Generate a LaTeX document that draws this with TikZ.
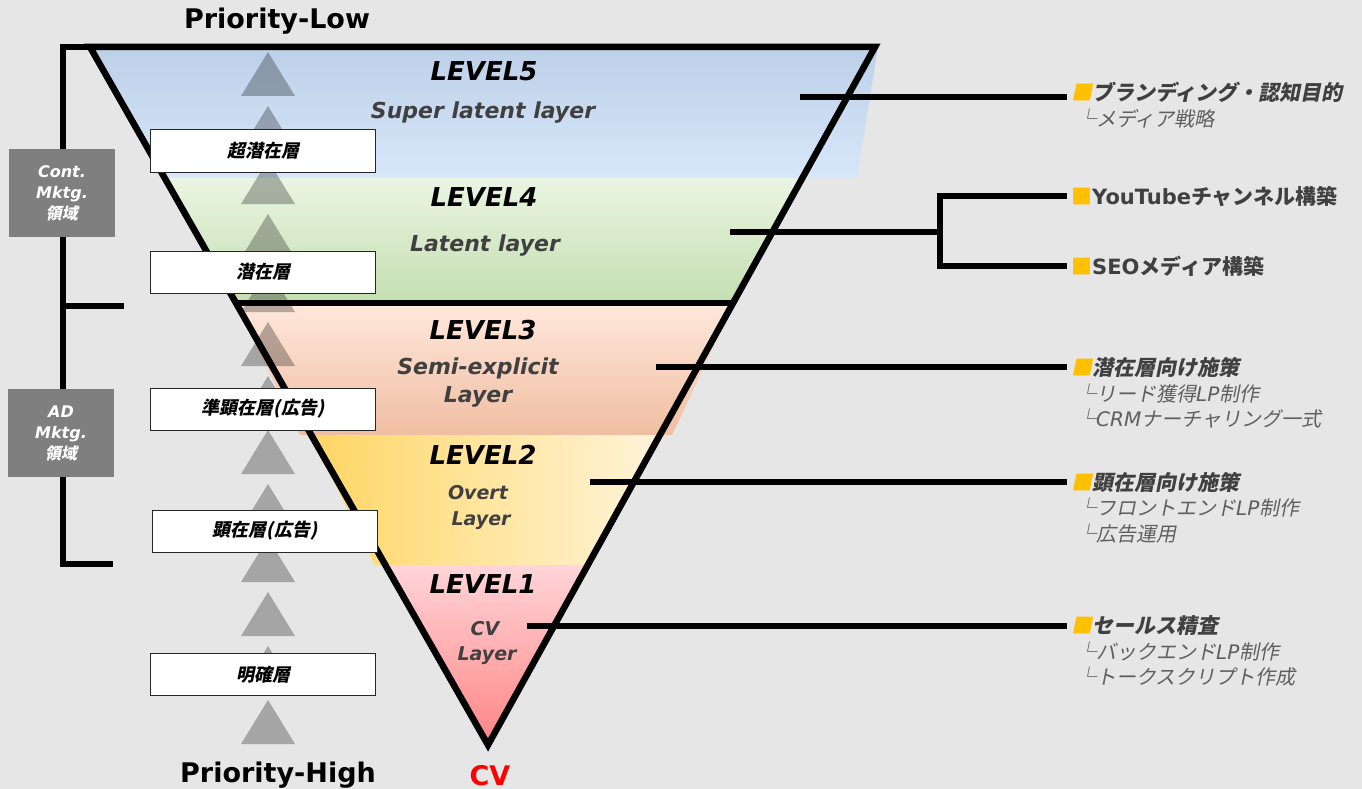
\documentclass[tikz,border=0pt]{standalone}
\usepackage{fontspec}
\setmainfont{DejaVu Sans}
\newfontfamily\jp{Noto Sans CJK JP}
\newfontfamily\jpit{Noto Sans CJK JP}[FakeSlant=0.2]
\usepackage{tikz}
\usetikzlibrary{calc,positioning}
\definecolor{bg}{RGB}{230,230,230}
\definecolor{ink}{RGB}{64,64,64}
\definecolor{subink}{RGB}{95,95,95}
\definecolor{markyellow}{RGB}{255,192,0}
\definecolor{areagray}{RGB}{127,127,127}
\definecolor{cvred}{RGB}{255,0,0}
\definecolor{l5top}{RGB}{188,208,232}
\definecolor{l5bot}{RGB}{216,231,250}
\definecolor{l4top}{RGB}{234,245,227}
\definecolor{l4bot}{RGB}{196,222,176}
\definecolor{l3top}{RGB}{255,231,219}
\definecolor{l3bot}{RGB}{240,190,162}
\definecolor{l2left}{RGB}{255,214,100}
\definecolor{l2mid}{RGB}{255,236,190}
\definecolor{l2right}{RGB}{255,244,218}
\definecolor{l1top}{RGB}{255,213,217}
\definecolor{l1bot}{RGB}{255,132,132}
\newcommand{\mksq}{{\jpit\color{markyellow}■}}
\newcommand{\mksqup}{{\jp\color{markyellow}■}}

\begin{document}
\begin{tikzpicture}[x=1pt,y=-1pt,every node/.style={inner sep=0pt},
    lvl/.style={anchor=base,font=\fontsize{26}{30}\selectfont\bfseries\itshape},
    layer/.style={anchor=base,text=ink,font=\fontsize{22}{26}\selectfont\bfseries\itshape},
    layersm/.style={anchor=base,text=ink,font=\fontsize{19}{23}\selectfont\bfseries\itshape},
    prio/.style={anchor=base,font=\fontsize{27}{31}\selectfont\bfseries},
    uptri/.style={fill=black,fill opacity=0.28},
    tag/.style={draw=black!85,fill=white,line width=1pt,minimum width=225pt,minimum height=42pt,
        font=\jpit\fontsize{18}{20}\selectfont\bfseries},
    area/.style={fill=areagray,minimum width=106pt,minimum height=88pt,align=center,text=white,
        font=\fontsize{16}{21}\selectfont\bfseries\itshape},
    bar/.style={line width=5.5pt},
    head/.style={anchor=base west,inner xsep=4pt,text=ink,font=\fontsize{21}{25}\selectfont\bfseries\itshape},
    headup/.style={head,font=\fontsize{21}{25}\selectfont\bfseries},
    item/.style={anchor=base west,text=subink,font=\fontsize{20}{22}\selectfont\itshape}]
    \fill[bg] (0,0) rectangle (1362,789);
    \useasboundingbox (0,0) rectangle (1362,789);

    % funnel bands
    \shade[top color=l5top,bottom color=l5bot] (90,47) -- (878,47) -- (857,178) -- (165,178) -- cycle;
    \shade[top color=l4top,bottom color=l4bot] (165,178) -- (802,178) -- (733,303) -- (236,303) -- cycle;
    \shade[top color=l3top,bottom color=l3bot] (236,306) -- (733,306) -- (672,435) -- (300,435) -- cycle;
    \shade[left color=l2left,middle color=l2mid,right color=l2right] (311,435) -- (660,435) -- (588,565) -- (375,565) -- cycle;
    \shade[top color=l1top,bottom color=l1bot] (385,565) -- (588,565) -- (488,745) -- cycle;

    % outline
    \coordinate (A) at (90,47);
    \coordinate (B) at (875,47);
    \coordinate (C) at (488,745);
    \draw[line width=6.5pt] (A) -- (B) -- (C) -- cycle;
    \draw[line width=6.5pt] ($(A)!0.3668!(C)$) -- ($(B)!0.3668!(C)$);

    % priority arrows
    \foreach \k in {0,...,12}
        \fill[uptri] (268,{52+54*\k}) -- ++(27,44) -- ++(-54,0) -- cycle;

    \node[prio] (plow) at (277,29) {Priority-Low};
    \node[prio] (phigh) at (278,782) {Priority-High};
    \node[prio,text=cvred] (cv) at (490,785) {CV};

    \node[tag] (tag5) at (263,151) {超潜在層};
    \node[tag] (tag4) at (263,272) {潜在層};
    \node[tag] (tag3) at (263,409) {準顕在層(広告)};
    \node[tag] (tag2) at (265,531) {顕在層(広告)};
    \node[tag] (tag1) at (263,674.5) {明確層};

    % left bracket
    \draw[bar] (92,47) -- (63,47) -- (63,564) -- (113,564);
    \draw[bar] (63,306) -- (124,306);
    \node[area] (cont) at (62,193) {Cont.\\Mktg.\\{\jpit 領域}};
    \node[area] (admk) at (61,433) {AD\\Mktg.\\{\jpit 領域}};

    % level labels
    \node[lvl] (lvl5) at (484,81) {LEVEL5};
    \node[layer] (lay5) at (483,119) {Super latent layer};
    \node[lvl] (lvl4) at (484,206) {LEVEL4};
    \node[layer] (lay4) at (485,251) {Latent layer};
    \node[lvl] (lvl3) at (483,339) {LEVEL3};
    \node[layer] (lay3a) at (478,374) {Semi-explicit};
    \node[layer] (lay3b) at (478,402) {Layer};
    \node[lvl] (lvl2) at (483,464) {LEVEL2};
    \node[layersm] (lay2a) at (478,499) {Overt};
    \node[layersm] (lay2b) at (481,525) {Layer};
    \node[lvl] (lvl1) at (483,593) {LEVEL1};
    \node[layersm] (lay1a) at (485,635) {CV};
    \node[layersm] (lay1b) at (487,660) {Layer};

    % measures
    \node[head] (h5) at (1067,101) {\mksq{\jpit ブランディング・認知目的}};
    \node[item] (h5a) at (1076,127) {{\jpit └メディア戦略}};
    \node[headup] (hyt) at (1067,204) {\mksqup YouTube{\jp チャンネル構築}};
    \node[headup] (hseo) at (1067,274) {\mksqup SEO{\jp メディア構築}};
    \node[head] (h3) at (1067,375) {\mksq{\jpit 潜在層向け施策}};
    \node[item] (h3a) at (1076,401) {{\jpit └リード獲得}LP{\jpit 制作}};
    \node[item] (h3b) at (1076,426) {{\jpit └}CRM{\jpit ナーチャリング一式}};
    \node[head] (h2) at (1067,490) {\mksq{\jpit 顕在層向け施策}};
    \node[item] (h2a) at (1076,515) {{\jpit └フロントエンド}LP{\jpit 制作}};
    \node[item] (h2b) at (1076,541) {{\jpit └広告運用}};
    \node[head] (h1) at (1067,633) {\mksq{\jpit セールス精査}};
    \node[item] (h1a) at (1076,659) {{\jpit └バックエンド}LP{\jpit 制作}};
    \node[item] (h1b) at (1076,684) {{\jpit └トークスクリプト作成}};

    % connectors
    \coordinate (s5) at (800,97);
    \coordinate (s4) at (730,232);
    \coordinate (fork) at (940,232);
    \coordinate (s3) at (656,367);
    \coordinate (s2) at (590,482);
    \coordinate (s1) at (527,626);
    \draw[bar] (s5) -- (s5 -| h5.west);
    \draw[bar] (s4) -- (fork);
    \draw[bar] (hyt.west) -- (hyt.west -| fork) -- (hseo.west -| fork) -- (hseo.west);
    \draw[bar] (s3) -- (s3 -| h3.west);
    \draw[bar] (s2) -- (s2 -| h2.west);
    \draw[bar] (s1) -- (s1 -| h1.west);
\end{tikzpicture}
\end{document}
